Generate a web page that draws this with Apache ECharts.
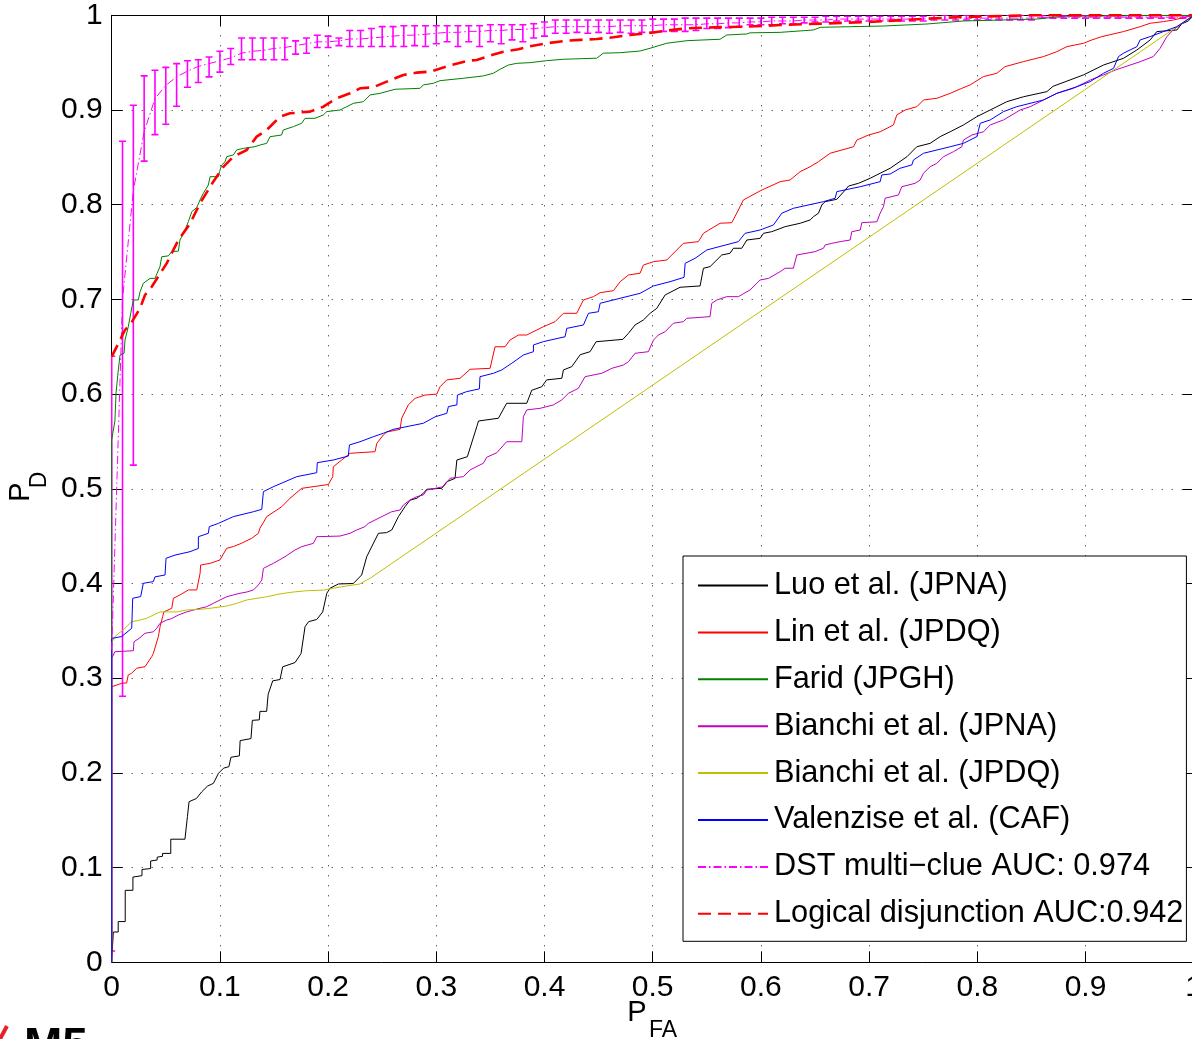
<!DOCTYPE html>
<html><head><meta charset="utf-8">
<script src="https://cdn.jsdelivr.net/npm/echarts@6/dist/echarts.min.js"></script>
<style>html,body{margin:0;padding:0;background:#fff;overflow:hidden}#c{width:1192px;height:1039px}</style>
</head><body><div id="c"></div>
<script>
// ---------- tick labels ----------
const xTickLabels = ['0','0.1','0.2','0.3','0.4','0.5','0.6','0.7','0.8','0.9','1'];
const yTickLabels = ['0','0.1','0.2','0.3','0.4','0.5','0.6','0.7','0.8','0.9','1'];
const seriesNames = ['Luo et al. (JPNA)','Lin et al. (JPDQ)','Farid (JPGH)','Bianchi et al. (JPNA)','Bianchi et al. (JPDQ)','Valenzise et al. (CAF)','DST multi\u2212clue AUC: 0.974','Logical disjunction AUC:0.942'];

// ---------- series values [P_FA, P_D] ----------
const luoPoints = [[0,0],[0.0015,0.032],[0.006,0.032],[0.006,0.043],[0.0125,0.043],[0.0125,0.076],[0.0196,0.076],[0.0196,0.09],[0.028,0.0915],[0.028,0.098],[0.036,0.099],[0.036,0.107],[0.042,0.108],[0.042,0.111],[0.047,0.112],[0.047,0.115],[0.0546,0.115],[0.0546,0.13],[0.0677,0.13],[0.07,0.154],[0.0715,0.1696],[0.0783,0.173],[0.0832,0.18],[0.0885,0.186],[0.094,0.189],[0.0987,0.1996],[0.1034,0.205],[0.1083,0.2066],[0.1102,0.2165],[0.118,0.218],[0.1187,0.2341],[0.1287,0.2362],[0.130,0.2555],[0.1364,0.256],[0.137,0.265],[0.1432,0.265],[0.1446,0.283],[0.1488,0.2972],[0.1556,0.2986],[0.158,0.312],[0.1694,0.3165],[0.175,0.326],[0.1787,0.3544],[0.182,0.3597],[0.1895,0.362],[0.195,0.370],[0.1988,0.3897],[0.2018,0.395],[0.2095,0.3995],[0.2233,0.400],[0.231,0.409],[0.2357,0.4283],[0.2465,0.453],[0.254,0.4537],[0.2588,0.4565],[0.265,0.4706],[0.271,0.481],[0.2757,0.488],[0.282,0.490],[0.288,0.4952],[0.2912,0.4995],[0.305,0.5005],[0.3097,0.5075],[0.3173,0.511],[0.319,0.5304],[0.3287,0.5339],[0.3374,0.5656],[0.339,0.5716],[0.3574,0.5745],[0.365,0.5903],[0.3836,0.5903],[0.3882,0.604],[0.3975,0.6078],[0.402,0.615],[0.416,0.6167],[0.4175,0.6255],[0.4252,0.629],[0.433,0.6416],[0.4421,0.6448],[0.4477,0.6553],[0.4724,0.6578],[0.4776,0.6642],[0.4837,0.673],[0.4914,0.6783],[0.4976,0.6853],[0.5038,0.6906],[0.5115,0.7047],[0.5253,0.7128],[0.5438,0.7142],[0.5469,0.7329],[0.553,0.7346],[0.5638,0.7469],[0.5715,0.7487],[0.5746,0.754],[0.5823,0.754],[0.587,0.7627],[0.5993,0.7645],[0.6024,0.7698],[0.610,0.7715],[0.6224,0.7768],[0.6363,0.7804],[0.6455,0.7839],[0.6486,0.7874],[0.6532,0.791],[0.6563,0.7997],[0.6594,0.8032],[0.6702,0.8057],[0.6779,0.8155],[0.681,0.8197],[0.6902,0.8226],[0.701,0.8279],[0.7102,0.8332],[0.7195,0.8385],[0.735,0.8507],[0.7441,0.8612],[0.7564,0.8648],[0.7657,0.8719],[0.7749,0.877],[0.7872,0.8842],[0.7996,0.893],[0.8181,0.9035],[0.8273,0.9088],[0.8427,0.914],[0.8643,0.9194],[0.87,0.925],[0.898,0.937],[0.9166,0.9475],[0.9351,0.9546],[0.9475,0.9634],[0.9598,0.974],[0.9659,0.9828],[0.9845,0.9845],[0.989,0.991],[0.995,0.994],[1,1]];

const linPoints = [[0,0],[0,0.291],[0.0092,0.2946],[0.0138,0.295],[0.0153,0.3034],[0.0184,0.3052],[0.0231,0.3105],[0.0308,0.3122],[0.037,0.3227],[0.0385,0.3262],[0.0431,0.3438],[0.0447,0.3544],[0.0471,0.365],[0.0482,0.370],[0.0555,0.3738],[0.057,0.3844],[0.0632,0.388],[0.0709,0.3932],[0.0786,0.3932],[0.0817,0.4108],[0.0822,0.4195],[0.0909,0.4213],[0.1,0.4248],[0.1063,0.4372],[0.1124,0.439],[0.12,0.4425],[0.1294,0.4477],[0.1356,0.453],[0.137,0.4583],[0.1433,0.4706],[0.1571,0.481],[0.1648,0.490],[0.1756,0.5005],[0.2002,0.5045],[0.2043,0.5128],[0.2048,0.5233],[0.2126,0.5304],[0.2203,0.5375],[0.2434,0.5392],[0.245,0.548],[0.251,0.5568],[0.2542,0.560],[0.2665,0.5628],[0.268,0.5745],[0.2742,0.5887],[0.2804,0.5955],[0.2896,0.599],[0.3004,0.600],[0.3035,0.6078],[0.3097,0.615],[0.322,0.6167],[0.3312,0.6262],[0.3497,0.6272],[0.3543,0.650],[0.3636,0.650],[0.368,0.657],[0.3759,0.6624],[0.3836,0.6624],[0.399,0.6712],[0.4098,0.6765],[0.4175,0.6853],[0.4298,0.6853],[0.436,0.6994],[0.4452,0.7029],[0.4514,0.7071],[0.4637,0.7092],[0.4699,0.7187],[0.4776,0.7258],[0.4883,0.7276],[0.4914,0.7363],[0.5007,0.7398],[0.513,0.7416],[0.5207,0.7504],[0.5284,0.7592],[0.5422,0.761],[0.5469,0.7698],[0.5515,0.773],[0.5623,0.7804],[0.5731,0.781],[0.5792,0.7944],[0.5838,0.805],[0.60,0.815],[0.6178,0.8243],[0.627,0.8261],[0.6363,0.8349],[0.6455,0.8401],[0.6532,0.8454],[0.664,0.8543],[0.6856,0.8612],[0.6887,0.8683],[0.6995,0.8736],[0.7102,0.877],[0.7225,0.8842],[0.7256,0.8948],[0.7333,0.9],[0.7441,0.9035],[0.7503,0.9106],[0.7627,0.9124],[0.7749,0.9176],[0.7857,0.9229],[0.7934,0.9265],[0.8057,0.9353],[0.8181,0.9388],[0.8257,0.9458],[0.8427,0.9511],[0.8612,0.9564],[0.8735,0.9616],[0.8828,0.9669],[0.8982,0.9705],[0.9059,0.974],[0.9151,0.9775],[0.9351,0.9828],[0.9505,0.988],[0.9598,0.9916],[0.972,0.9933],[0.981,0.995],[1,1]];

const faridPoints = [[0,0],[0,0.5515],[0.003,0.572],[0.004,0.601],[0.0061,0.6255],[0.0077,0.6413],[0.0114,0.643],[0.0123,0.657],[0.0153,0.671],[0.0176,0.6853],[0.02,0.6994],[0.0246,0.6994],[0.0262,0.708],[0.0292,0.717],[0.0354,0.7222],[0.04,0.7222],[0.0446,0.7346],[0.0462,0.745],[0.0524,0.746],[0.0555,0.7504],[0.0616,0.751],[0.0631,0.7627],[0.0678,0.7733],[0.0708,0.782],[0.074,0.7926],[0.0786,0.797],[0.0816,0.805],[0.0847,0.812],[0.0893,0.8208],[0.0909,0.8296],[0.0986,0.8296],[0.0997,0.835],[0.1017,0.8419],[0.1048,0.8454],[0.1063,0.8507],[0.1124,0.8525],[0.1155,0.8578],[0.1217,0.8595],[0.1325,0.8613],[0.137,0.863],[0.1433,0.8648],[0.1463,0.8718],[0.157,0.8736],[0.1586,0.8789],[0.1679,0.8824],[0.1756,0.886],[0.1787,0.8912],[0.1879,0.8912],[0.1956,0.8948],[0.1988,0.8983],[0.211,0.9],[0.2172,0.9035],[0.2233,0.907],[0.2326,0.9088],[0.2388,0.9159],[0.248,0.9176],[0.2619,0.9219],[0.285,0.9229],[0.288,0.9265],[0.2973,0.9282],[0.3035,0.931],[0.325,0.9335],[0.3435,0.936],[0.3527,0.9388],[0.359,0.943],[0.3666,0.9475],[0.3744,0.9493],[0.3867,0.95],[0.402,0.9521],[0.4175,0.9536],[0.4483,0.9547],[0.4544,0.96],[0.47,0.9605],[0.4883,0.9623],[0.4976,0.9652],[0.513,0.9705],[0.5315,0.9732],[0.5623,0.9747],[0.5685,0.9792],[0.587,0.9803],[0.590,0.9815],[0.6178,0.982],[0.6486,0.9845],[0.6548,0.9873],[0.7133,0.9887],[0.7534,0.9908],[0.7872,0.994],[0.855,0.996],[0.88,0.999],[1,1]];

const bianchiNaPoints = [[0,0],[0,0.321],[0.003,0.328],[0.02,0.329],[0.0206,0.3385],[0.0252,0.342],[0.0308,0.3474],[0.0385,0.349],[0.0416,0.3527],[0.0447,0.358],[0.0508,0.3614],[0.0555,0.363],[0.0616,0.3667],[0.0693,0.37],[0.0755,0.372],[0.0816,0.3738],[0.0878,0.3755],[0.0939,0.379],[0.1001,0.3826],[0.1063,0.386],[0.1124,0.3879],[0.1186,0.3897],[0.1248,0.391],[0.131,0.3932],[0.1356,0.3985],[0.1387,0.4037],[0.1402,0.416],[0.1494,0.4213],[0.1602,0.4283],[0.1694,0.4354],[0.1756,0.4389],[0.1864,0.4424],[0.1895,0.4494],[0.211,0.4501],[0.2203,0.453],[0.2264,0.4565],[0.234,0.46],[0.2372,0.4635],[0.2496,0.4706],[0.2588,0.4758],[0.2665,0.4776],[0.2696,0.4829],[0.2757,0.4882],[0.282,0.4917],[0.288,0.4935],[0.2912,0.4987],[0.3065,0.5022],[0.3127,0.5111],[0.325,0.5128],[0.3312,0.5199],[0.3435,0.527],[0.3466,0.5333],[0.3559,0.5381],[0.365,0.5497],[0.379,0.5497],[0.3805,0.5762],[0.3836,0.5833],[0.396,0.585],[0.4083,0.5886],[0.416,0.5939],[0.4221,0.6008],[0.4313,0.6061],[0.4375,0.6184],[0.453,0.622],[0.4622,0.6272],[0.4729,0.6307],[0.4776,0.6342],[0.4837,0.6431],[0.496,0.6448],[0.5007,0.6571],[0.5053,0.6624],[0.5115,0.6659],[0.5191,0.6748],[0.5284,0.6765],[0.5315,0.680],[0.553,0.6818],[0.5546,0.6959],[0.5593,0.6994],[0.5685,0.7029],[0.5792,0.7029],[0.590,0.710],[0.5993,0.7205],[0.6071,0.7222],[0.6178,0.7293],[0.6224,0.7329],[0.630,0.7329],[0.6332,0.7469],[0.6347,0.7487],[0.6501,0.7504],[0.6578,0.754],[0.6594,0.7575],[0.6656,0.7592],[0.6733,0.761],[0.6825,0.7627],[0.684,0.7715],[0.6918,0.7733],[0.6933,0.781],[0.7072,0.782],[0.7102,0.791],[0.7133,0.7979],[0.7148,0.8068],[0.7271,0.8103],[0.7302,0.819],[0.7425,0.8226],[0.7472,0.8261],[0.7502,0.8332],[0.7564,0.8401],[0.7626,0.8437],[0.7688,0.8507],[0.778,0.856],[0.7857,0.8612],[0.7872,0.8683],[0.795,0.8736],[0.8057,0.877],[0.8119,0.8842],[0.8242,0.8895],[0.8396,0.90],[0.8489,0.9035],[0.8612,0.9106],[0.8735,0.9176],[0.8889,0.9229],[0.9044,0.9317],[0.9166,0.937],[0.9275,0.9422],[0.9505,0.951],[0.9627,0.9564],[0.969,0.9652],[0.9752,0.9775],[0.981,0.9845],[0.989,0.991],[1,1]];

const bianchiDqPoints = [[0,0],[0,0.337],[0.003,0.344],[0.0123,0.3527],[0.0185,0.3597],[0.0246,0.361],[0.0323,0.3632],[0.0385,0.3667],[0.0447,0.370],[0.0601,0.370],[0.0693,0.372],[0.0816,0.3727],[0.0909,0.3738],[0.1063,0.3762],[0.1155,0.379],[0.1248,0.3826],[0.1433,0.386],[0.1556,0.389],[0.1679,0.391],[0.1802,0.3924],[0.1956,0.393],[0.2048,0.395],[0.2172,0.3974],[0.2295,0.3995],[0.2357,0.4037],[0.2388,0.4055],[1,1]];

const valenzisePoints = [[0,0],[0,0.342],[0.0092,0.344],[0.0185,0.3527],[0.0194,0.3844],[0.0268,0.3862],[0.0292,0.4002],[0.0385,0.402],[0.040,0.407],[0.0493,0.409],[0.0502,0.4266],[0.0585,0.430],[0.0724,0.4336],[0.0801,0.437],[0.0801,0.4494],[0.0893,0.453],[0.0902,0.46],[0.0986,0.4635],[0.1124,0.4706],[0.131,0.4758],[0.1387,0.4783],[0.1402,0.497],[0.1494,0.5022],[0.1602,0.5075],[0.171,0.5128],[0.1895,0.517],[0.19,0.5276],[0.2048,0.5304],[0.2187,0.5346],[0.2197,0.5463],[0.2295,0.5497],[0.2418,0.555],[0.251,0.5586],[0.2603,0.5628],[0.288,0.5692],[0.2989,0.576],[0.3097,0.5797],[0.3112,0.5868],[0.319,0.5886],[0.3195,0.599],[0.328,0.6026],[0.3398,0.6055],[0.3404,0.6184],[0.3528,0.622],[0.3605,0.6255],[0.3698,0.6326],[0.3805,0.6413],[0.3898,0.6448],[0.3898,0.6519],[0.399,0.6554],[0.419,0.6606],[0.4206,0.6694],[0.436,0.673],[0.4406,0.6853],[0.4498,0.687],[0.4514,0.6959],[0.4699,0.7012],[0.4883,0.7064],[0.5007,0.7142],[0.516,0.7187],[0.529,0.7233],[0.530,0.7381],[0.5392,0.7434],[0.550,0.7522],[0.5792,0.761],[0.5854,0.7698],[0.5993,0.7733],[0.6116,0.7786],[0.6193,0.791],[0.630,0.7962],[0.6578,0.8032],[0.6686,0.8068],[0.6702,0.8138],[0.6918,0.819],[0.7102,0.8243],[0.7117,0.8314],[0.7195,0.8324],[0.7287,0.8385],[0.7395,0.842],[0.741,0.8472],[0.7503,0.8543],[0.7749,0.8612],[0.7872,0.8648],[0.7996,0.8719],[0.8027,0.886],[0.8119,0.8895],[0.8242,0.8983],[0.8365,0.9035],[0.8612,0.9106],[0.8735,0.9176],[0.892,0.9246],[0.9044,0.93],[0.9166,0.9388],[0.9259,0.944],[0.9305,0.9564],[0.9351,0.96],[0.9475,0.9669],[0.9505,0.974],[0.9598,0.9775],[0.972,0.9828],[0.9844,0.988],[1,1]];

const disjunctionPoints = [[0,0.6395],[0.0123,0.6677],[0.0185,0.676],[0.0262,0.6906],[0.0308,0.7047],[0.037,0.7134],[0.0508,0.738],[0.0616,0.7627],[0.0724,0.780],[0.0816,0.8014],[0.0939,0.8243],[0.1032,0.840],[0.1124,0.8507],[0.1248,0.8578],[0.134,0.8719],[0.1433,0.8789],[0.1556,0.893],[0.1648,0.8965],[0.1833,0.8983],[0.1956,0.9035],[0.208,0.9124],[0.2203,0.9176],[0.2295,0.9229],[0.2418,0.924],[0.2542,0.93],[0.2696,0.937],[0.282,0.9395],[0.2942,0.9405],[0.3143,0.9475],[0.3297,0.9521],[0.3374,0.9528],[0.3513,0.958],[0.362,0.9616],[0.3759,0.9641],[0.3851,0.9669],[0.402,0.9705],[0.4206,0.9732],[0.4329,0.974],[0.4483,0.975],[0.4637,0.9768],[0.4791,0.9792],[0.4945,0.981],[0.513,0.9838],[0.5315,0.9863],[0.5561,0.9873],[0.587,0.988],[0.6178,0.9897],[0.70,0.993],[0.78,0.998],[0.85,1.0],[1,1]];

// DST multi-clue: abscissae, mean and error-bar extents
const dstX = [0,0.01,0.02,0.03,0.04,0.05,0.06,0.07,0.08,0.09,0.10,0.11,0.12,0.13,0.14,0.15,0.16,0.17,0.18,0.19,0.20,0.21,0.22,0.23,0.24,0.25,0.26,0.27,0.28,0.29,0.30,0.31,0.32,0.33,0.34,0.35,0.36,0.37,0.38,0.39,0.40,0.41,0.42,0.43,0.44,0.45,0.46,0.47,0.48,0.49,0.50,0.51,0.52,0.53,0.54,0.55,0.56,0.57,0.58,0.59,0.60,0.61,0.62,0.63,0.64,0.65,0.66,0.67,0.68,0.69,0.70,0.71,0.72,0.73,0.74,0.75,0.76,0.77,0.78,0.79,0.80,0.81,0.82,0.83,0.84,0.85,0.86,0.87,0.88,0.89,0.90,0.91,0.92,0.93,0.94,0.95,0.96,0.97,0.98,0.99,1.00];
const dstMean = [0.330,0.700,0.815,0.877,0.912,0.926,0.935,0.941,0.946,0.949,0.952,0.955,0.960,0.962,0.963,0.965,0.966,0.968,0.970,0.972,0.972,0.973,0.975,0.975,0.976,0.977,0.978,0.979,0.979,0.980,0.981,0.982,0.982,0.983,0.983,0.984,0.984,0.985,0.985,0.986,0.987,0.988,0.988,0.988,0.988,0.988,0.988,0.989,0.989,0.989,0.989,0.990,0.990,0.990,0.990,0.991,0.991,0.992,0.992,0.993,0.993,0.994,0.994,0.994,0.995,0.995,0.995,0.996,0.996,0.996,0.996,0.996,0.996,0.996,0.996,0.996,0.997,0.997,0.997,0.997,0.997,0.997,0.997,0.997,0.997,0.997,0.998,0.998,0.998,0.998,0.998,0.998,0.998,0.998,0.998,0.998,0.998,0.998,0.998,0.998,1.000];
const dstLow = [0.012,0.281,0.525,0.846,0.874,0.885,0.904,0.924,0.929,0.935,0.940,0.948,0.953,0.953,0.953,0.953,0.953,0.959,0.960,0.966,0.966,0.968,0.967,0.967,0.967,0.967,0.967,0.967,0.968,0.967,0.970,0.972,0.967,0.972,0.967,0.972,0.970,0.974,0.972,0.976,0.978,0.981,0.981,0.982,0.981,0.982,0.981,0.982,0.981,0.982,0.982,0.983,0.983,0.983,0.984,0.986,0.986,0.987,0.988,0.990,0.990,0.990,0.991,0.991,0.992,0.993,0.993,0.994,0.994,0.994,0.994,0.994,0.994,0.994,0.994,0.994,0.995,0.995,0.995,0.995,0.995,0.995,0.995,0.995,0.995,0.995,0.997,0.997,0.997,0.997,0.997,0.997,0.997,0.997,0.997,0.997,0.997,0.997,0.997,0.997,1.000];
const dstHigh = [0.640,0.867,0.905,0.936,0.942,0.945,0.949,0.952,0.953,0.956,0.962,0.965,0.976,0.976,0.976,0.976,0.976,0.973,0.976,0.979,0.978,0.976,0.984,0.984,0.986,0.988,0.988,0.989,0.989,0.989,0.989,0.989,0.989,0.989,0.989,0.990,0.990,0.990,0.990,0.991,0.993,0.995,0.995,0.995,0.995,0.995,0.995,0.995,0.995,0.995,0.996,0.996,0.996,0.997,0.997,0.997,0.997,0.997,0.997,0.997,0.997,0.998,0.998,0.998,0.998,0.998,0.999,0.999,0.999,0.999,0.999,0.999,0.999,0.999,0.999,0.999,1.000,1.000,1.000,1.000,1.000,1.000,1.000,1.000,1.000,1.000,1.000,1.000,1.000,1.000,1.000,1.000,1.000,1.000,1.000,1.000,1.000,1.000,1.000,1.000,1.000];

// ---------- chart ----------
const FONT = "'Liberation Sans', Arial, Helvetica, sans-serif";
const chart = echarts.init(document.getElementById('c'), null, {renderer: 'canvas'});
const dstLine = dstX.map((x, i) => [x, dstMean[i]]);
const dstBars = dstX.map((x, i) => [x, dstLow[i], dstHigh[i]]);
const labelFromList = list => v => { const i = Math.round(v * 10); return list[i] !== undefined ? list[i] : ''; };

function lineSeries(name, data, color, width, type) {
  return {
    name, type: 'line', data, showSymbol: false, symbol: 'none', animation: false,
    lineStyle: {color, width, type: type || 'solid'}, itemStyle: {color},
    emphasis: {disabled: true}, clip: true
  };
}

const axisCommon = {
  type: 'value', min: 0, max: 1, interval: 0.1,
  axisLine: {show: true, onZero: false, lineStyle: {color: '#000', width: 1}},
  axisTick: {show: true, inside: true, length: 11, lineStyle: {color: '#000', width: 1}},
};

chart.setOption({
  backgroundColor: '#fff',
  animation: false,
  grid: {left: 111.7, right: -1.7, top: 15.3, bottom: 76.7, containLabel: false, outerBoundsMode: 'none', show: false},
  xAxis: [
    Object.assign({}, axisCommon, {
      position: 'bottom',
      axisLabel: {show: true, fontSize: 30, fontFamily: FONT, color: '#000', margin: 10, formatter: labelFromList(xTickLabels), showMinLabel: true, showMaxLabel: true, hideOverlap: false},
      splitLine: {show: true, lineStyle: {color: '#222', width: 1, type: [1, 9]}}
    }),
    Object.assign({}, axisCommon, {
      position: 'top', axisLabel: {show: false}, splitLine: {show: false}
    })
  ],
  yAxis: [
    Object.assign({}, axisCommon, {
      position: 'left',
      axisLabel: {show: true, fontSize: 30, fontFamily: FONT, color: '#000', margin: 9, formatter: labelFromList(yTickLabels), showMinLabel: true, showMaxLabel: true},
      splitLine: {show: true, lineStyle: {color: '#222', width: 1, type: [1, 9]}}
    }),
    Object.assign({}, axisCommon, {
      position: 'right', axisLabel: {show: false}, splitLine: {show: false}
    })
  ],
  legend: {
    show: true, orient: 'vertical', left: 683, top: 556,
    data: seriesNames, selectedMode: false,
    itemWidth: 70, itemHeight: 0.01, itemGap: 15.9,
    padding: [14, 3, 12, 14],
    backgroundColor: '#fff', borderColor: '#000', borderWidth: 1,
    textStyle: {fontSize: 30.7, fontFamily: FONT, color: '#000', lineHeight: 30, padding: [0, 0, 0, 1]},
    z: 10
  },
  series: [
    lineSeries(seriesNames[0], luoPoints, '#000000', 1),
    lineSeries(seriesNames[1], linPoints, '#ff0000', 1),
    lineSeries(seriesNames[2], faridPoints, '#008000', 1),
    lineSeries(seriesNames[3], bianchiNaPoints, '#bf00bf', 1),
    lineSeries(seriesNames[4], bianchiDqPoints, '#bfbf00', 1),
    lineSeries(seriesNames[5], valenzisePoints, '#0000ff', 1),
    lineSeries(seriesNames[6], dstLine, '#ff00ff', 1, [8, 3, 1.5, 3]),
    {
      name: 'DST error bars', type: 'custom', data: dstBars, clip: true, animation: false,
      encode: {x: 0, y: [1, 2]}, z: 3,
      renderItem: function (params, api) {
        const x = api.value(0), lo = api.value(1), hi = api.value(2);
        const pLo = api.coord([x, lo]), pHi = api.coord([x, hi]);
        const hw = 3.5;
        const style = {stroke: '#ff00ff', lineWidth: 1.6, fill: null};
        return {type: 'group', children: [
          {type: 'line', shape: {x1: pLo[0], y1: pLo[1], x2: pHi[0], y2: pHi[1]}, style},
          {type: 'line', shape: {x1: pLo[0] - hw, y1: pLo[1], x2: pLo[0] + hw, y2: pLo[1]}, style},
          {type: 'line', shape: {x1: pHi[0] - hw, y1: pHi[1], x2: pHi[0] + hw, y2: pHi[1]}, style}
        ]};
      }
    },
    lineSeries(seriesNames[7], disjunctionPoints, '#ff0000', 2.6, [13, 7])
  ],
  graphic: [
    {type: 'text', x: 21, y: 492, rotation: Math.PI / 2, style: {text: 'P', fontSize: 29, fontFamily: FONT, fill: '#000', textAlign: 'center', textVerticalAlign: 'middle'}},
    {type: 'text', x: 39.5, y: 480, rotation: Math.PI / 2, style: {text: 'D', fontSize: 23, fontFamily: FONT, fill: '#000', textAlign: 'center', textVerticalAlign: 'middle'}},
    {type: 'text', x: 637, y: 1013, style: {text: 'P', fontSize: 29, fontFamily: FONT, fill: '#000', textAlign: 'center', textVerticalAlign: 'middle'}},
    {type: 'text', x: 663, y: 1031, style: {text: 'FA', fontSize: 23, fontFamily: FONT, fill: '#000', textAlign: 'center', textVerticalAlign: 'middle'}},
    {type: 'text', x: 24, y: 1024, style: {text: 'M5', fontSize: 46, fontWeight: 'bold', fontFamily: FONT, fill: '#000', textAlign: 'left', textVerticalAlign: 'top'}},
    {type: 'line', shape: {x1: 0, y1: 1039, x2: 7, y2: 1026}, style: {stroke: '#e8202a', lineWidth: 4}}
  ]
});
</script>
</body></html>
